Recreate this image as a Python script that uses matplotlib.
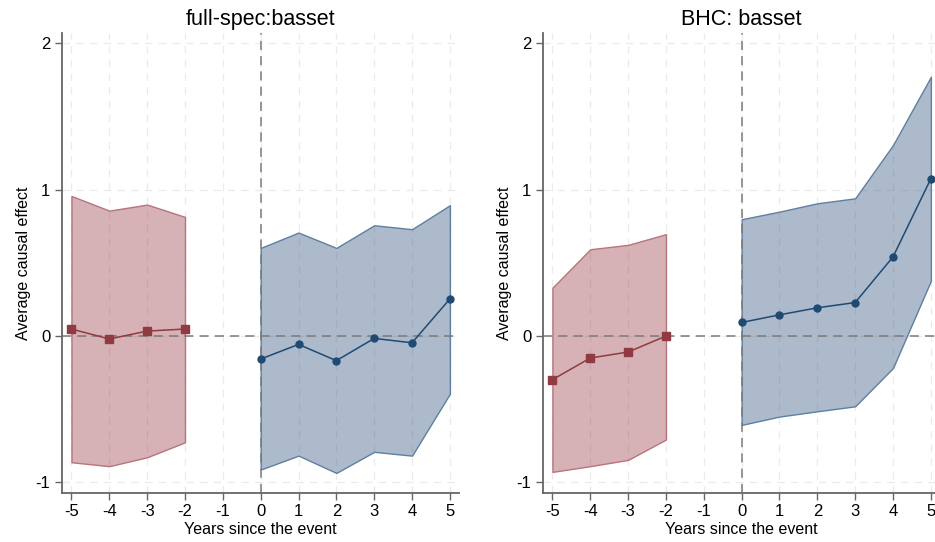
import numpy as np
import matplotlib.pyplot as plt

plt.rcParams['font.family'] = ['Liberation Sans', 'DejaVu Sans']
plt.rcParams['axes.unicode_minus'] = False

# event time
pre_x = [-5, -4, -3, -2]
post_x = [0, 1, 2, 3, 4, 5]

# full-spec:basset
fs_pre = [0.048, -0.02, 0.034, 0.048]
fs_pre_hi = [0.957, 0.857, 0.898, 0.814]
fs_pre_lo = [-0.862, -0.889, -0.828, -0.726]
fs_post = [-0.157, -0.057, -0.168, -0.016, -0.046, 0.254]
fs_post_hi = [0.602, 0.707, 0.602, 0.757, 0.73, 0.894]
fs_post_lo = [-0.912, -0.817, -0.935, -0.791, -0.817, -0.394]

# BHC: basset
bhc_pre = [-0.298, -0.15, -0.109, 0.0]
bhc_pre_hi = [0.33, 0.593, 0.623, 0.696]
bhc_pre_lo = [-0.928, -0.889, -0.846, -0.707]
bhc_post = [0.093, 0.145, 0.193, 0.229, 0.541, 1.075]
bhc_post_hi = [0.798, 0.85, 0.907, 0.941, 1.305, 1.771]
bhc_post_lo = [-0.607, -0.55, -0.514, -0.48, -0.218, 0.377]

xticks = [-5, -4, -3, -2, -1, 0, 1, 2, 3, 4, 5]
yticks = [-1, 0, 1, 2]

red = '#903a42'
blue = '#1f4a72'


def panel(ax, title, pre, pre_hi, pre_lo, post, post_hi, post_lo):
    for t in xticks:
        ax.axvline(t, color='#ebebeb', lw=0.9, ls=(0, (6, 5)), zorder=0)
    for t in yticks:
        ax.axhline(t, color='#ebebeb', lw=0.9, ls=(0, (6, 5)), zorder=0)
    ax.fill_between(pre_x, pre_lo, pre_hi, facecolor=(0.58, 0.2, 0.25, 0.38),
                    edgecolor='#b9737b', lw=1.0, zorder=1)
    ax.fill_between(post_x, post_lo, post_hi, facecolor=(0.2, 0.33, 0.5, 0.4),
                    edgecolor='#5d7fa0', lw=1.0, zorder=1)
    ax.axhline(0, color='#7a7a7a', lw=1.1, ls=(0, (6, 4)), zorder=2)
    ax.axvline(0, color='#7a7a7a', lw=1.1, ls=(0, (6, 4)), zorder=2)
    ax.plot(pre_x, pre, color=red, lw=1.1, marker='s', ms=6, zorder=3)
    ax.plot(post_x, post, color=blue, lw=1.1, marker='o', ms=5, zorder=3)
    ax.set_xlim(-5.25, 5.25)
    ax.set_ylim(-1.07, 2.07)
    ax.set_xticks(xticks)
    ax.set_yticks(yticks)
    ax.spines['top'].set_visible(False)
    ax.spines['right'].set_visible(False)
    for s in ['left', 'bottom']:
        ax.spines[s].set_color('#666666')
        ax.spines[s].set_linewidth(1.3)
    ax.tick_params(colors='#666666', labelcolor='black', labelsize=12, width=1.0, length=5)
    ax.set_xlabel('Years since the event', fontsize=11.5, labelpad=2)
    ax.set_ylabel('Average causal effect', fontsize=11.5, labelpad=3)
    ax.set_title(title, fontsize=15.5, pad=6)


fig = plt.figure(figsize=(9.35, 5.42), dpi=100)
ax1 = fig.add_axes([0.0663, 0.091, 0.425, 0.848])
ax2 = fig.add_axes([0.5807, 0.091, 0.425, 0.848])
panel(ax1, 'full-spec:basset', fs_pre, fs_pre_hi, fs_pre_lo, fs_post, fs_post_hi, fs_post_lo)
panel(ax2, 'BHC: basset', bhc_pre, bhc_pre_hi, bhc_pre_lo, bhc_post, bhc_post_hi, bhc_post_lo)

fig.savefig('out.png', dpi=100)
